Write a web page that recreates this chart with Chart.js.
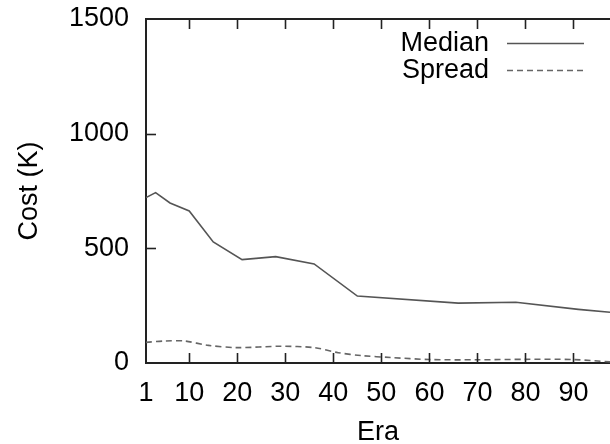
<!DOCTYPE html>
<html>
<head>
<meta charset="utf-8">
<script src="https://cdn.jsdelivr.net/npm/chart.js@4/dist/chart.umd.min.js"></script>
<style>
  html, body { margin: 0; padding: 0; background: #fff; overflow: hidden; }
  #c { display: block; }
</style>
</head>
<body>
<canvas id="c" width="610" height="444"></canvas>
<script>
const medianEras  = [1, 3, 6, 10, 15, 21, 28, 36, 45, 66, 78, 91, 97.6];
const medianCost  = [721, 743, 698, 663, 528, 451, 464, 432, 292, 261, 265, 234, 221];
const spreadEras  = [1, 5, 9, 14, 20, 29, 36, 41, 46, 52, 60, 70, 80, 90, 97.6];
const spreadCost  = [90, 96, 96, 77, 67, 73, 67, 45, 32, 24, 15, 14, 16, 15, 5];
const xTickValues = [1, 10, 20, 30, 40, 50, 60, 70, 80, 90];
const yTickValues = [0, 500, 1000, 1500];
const seriesLabels = ['Median', 'Spread'];

const FONT = "'Liberation Sans', Arial, Helvetica, sans-serif";

const framePlugin = {
  id: 'frame',
  afterDraw(chart) {
    const ctx = chart.ctx;
    const a = chart.chartArea;
    const xs = chart.scales.x, ys = chart.scales.y;
    ctx.save();
    ctx.strokeStyle = '#222';
    ctx.lineWidth = 2;
    ctx.beginPath();
    ctx.moveTo(a.left - 1, a.top);
    ctx.lineTo(a.right, a.top);
    ctx.stroke();
    ctx.lineWidth = 1.6;
    xTickValues.forEach(v => {
      const px = Math.round(xs.getPixelForValue(v)) + 0.5;
      if (v !== xs.min) {
        ctx.beginPath(); ctx.moveTo(px, a.bottom); ctx.lineTo(px, a.bottom - 10); ctx.stroke();
        ctx.beginPath(); ctx.moveTo(px, a.top); ctx.lineTo(px, a.top + 10); ctx.stroke();
      }
    });
    yTickValues.forEach(v => {
      const py = Math.round(ys.getPixelForValue(v)) + 0.5;
      if (v !== ys.min && v !== ys.max) {
        ctx.beginPath(); ctx.moveTo(a.left, py); ctx.lineTo(a.left + 10, py); ctx.stroke();
      }
    });
    ctx.font = '27px ' + FONT;
    ctx.fillStyle = '#000';
    ctx.textAlign = 'right';
    ctx.textBaseline = 'middle';
    chart.data.datasets.forEach((ds, i) => {
      const y = 44 + i * 27;
      ctx.fillText(ds.label, 489, y);
      ctx.save();
      ctx.strokeStyle = ds.borderColor;
      ctx.lineWidth = ds.borderWidth;
      ctx.setLineDash(ds.borderDash || []);
      ctx.beginPath(); ctx.moveTo(507, y - 0.5); ctx.lineTo(584, y - 0.5); ctx.stroke();
      ctx.restore();
    });
    ctx.restore();
  }
};

new Chart(document.getElementById('c'), {
  type: 'line',
  data: {
    datasets: [
      {
        label: seriesLabels[0],
        data: medianEras.map((e, i) => ({ x: e, y: medianCost[i] })),
        borderColor: '#555',
        borderWidth: 1.6,
        pointRadius: 0,
        tension: 0,
        fill: false
      },
      {
        label: seriesLabels[1],
        data: spreadEras.map((e, i) => ({ x: e, y: spreadCost[i] })),
        borderColor: '#666',
        borderWidth: 1.6,
        borderDash: [6, 4],
        pointRadius: 0,
        tension: 0.3,
        fill: false
      }
    ]
  },
  options: {
    responsive: false,
    animation: false,
    layout: { padding: { top: 19, right: 0, left: 0, bottom: 0 } },
    plugins: { legend: { display: false }, tooltip: { enabled: false } },
    scales: {
      x: {
        type: 'linear',
        min: 1,
        max: 97.6,
        afterBuildTicks(scale) { scale.ticks = xTickValues.map(v => ({ value: v })); },
        afterFit(scale) { scale.height = 81; scale.paddingLeft = 0; scale.paddingRight = 0; },
        grid: { display: false, drawTicks: false },
        border: { display: true, color: '#222', width: 2 },
        ticks: { color: '#000', font: { family: FONT, size: 27 }, padding: 14, maxRotation: 0, autoSkip: false, callback: v => String(v) },
        title: { display: true, text: 'Era', color: '#000', font: { family: FONT, size: 27, lineHeight: 1 }, padding: { top: 0, bottom: -2 } }
      },
      y: {
        min: 0,
        max: 1500,
        afterBuildTicks(scale) { scale.ticks = yTickValues.map(v => ({ value: v })); },
        afterFit(scale) { scale.width = 146; scale.paddingTop = 0; scale.paddingBottom = 0; },
        grid: { display: false, drawTicks: false },
        border: { display: true, color: '#222', width: 2 },
        ticks: { color: '#000', font: { family: FONT, size: 27 }, padding: 17, callback: v => String(v) },
        title: { display: true, text: 'Cost (K)', color: '#000', font: { family: FONT, size: 27, lineHeight: 1 }, padding: { top: 16, bottom: 0 } }
      }
    }
  },
  plugins: [framePlugin]
});
</script>
</body>
</html>
